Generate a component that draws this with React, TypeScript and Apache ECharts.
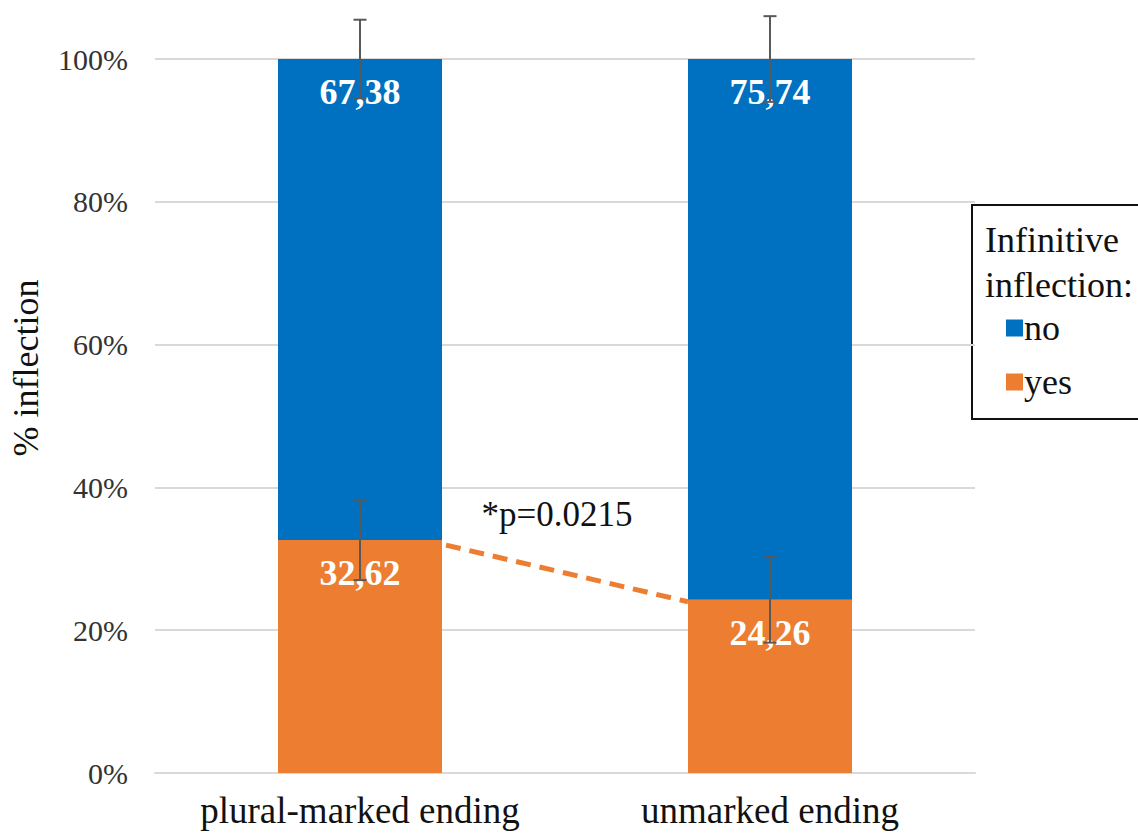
import React, { useEffect, useRef } from "react";
import * as echarts from "echarts";

const categories = ["plural-marked ending", "unmarked ending"];
const yesValues = [32.62, 24.26];
const noValues = [67.38, 75.74];
const yesErrors = [5.6, 6.0];
const noErrors = [5.5, 6.0];
const yTicks = [0, 20, 40, 60, 80, 100];
const pText = "*p=0.0215";
const yAxisTitle = "% inflection";
const legendTitle = ["Infinitive", "inflection:"];

const FONT = "Liberation Serif";
const BLUE = "#0070C0";
const ORANGE = "#ED7D31";
const BAR_FRAC = 0.4;

const fmt = (v: number) => v.toFixed(2).replace(".", ",");

export default function App() {
  const ref = useRef<HTMLDivElement>(null);
  useEffect(() => {
    if (!ref.current) return;
    const chart = echarts.init(ref.current, null, { renderer: "svg" });

    const errData = [
      ...yesValues.map((v, i) => [i, v, yesErrors[i]]),
      ...noValues.map((v, i) => [i, v + yesValues[i], noErrors[i]]),
    ];

    const barLabel = {
      show: true,
      position: "insideTop",
      distance: 15,
      formatter: (p: any) => fmt(p.value),
      fontFamily: FONT,
      fontWeight: "bold",
      fontSize: 36,
      color: "#fff",
    };

    chart.setOption({
      animation: false,
      backgroundColor: "#ffffff",
      textStyle: { fontFamily: FONT },
      grid: { left: 155, right: 163, top: 59, bottom: 62, containLabel: false },
      legend: {
        data: ["no", "yes"],
        orient: "vertical",
        left: 1001,
        top: 305,
        itemWidth: 17,
        itemHeight: 17,
        itemGap: 18,
        icon: "rect",
        textStyle: { fontFamily: FONT, fontSize: 36, color: "#111", lineHeight: 36, padding: [0, 0, 0, -4] },
      },
      xAxis: {
        type: "category",
        data: categories,
        axisLine: { lineStyle: { color: "#D9D9D9", width: 2 } },
        axisTick: { show: false },
        axisLabel: { fontFamily: FONT, fontSize: 37, color: "#111", margin: 19, interval: 0, hideOverlap: false },
      },
      yAxis: {
        type: "value",
        min: yTicks[0],
        max: yTicks[yTicks.length - 1],
        interval: 20,
        axisLine: { show: false },
        axisTick: { show: false },
        axisLabel: { fontFamily: FONT, fontSize: 30, color: "#333", margin: 27, formatter: "{value}%" },
        splitLine: { lineStyle: { color: "#D9D9D9", width: 2 } },
      },
      series: [
        {
          name: "yes",
          type: "bar",
          stack: "total",
          data: yesValues,
          barWidth: BAR_FRAC * 100 + "%",
          itemStyle: { color: ORANGE },
          label: barLabel,
        },
        {
          name: "no",
          type: "bar",
          stack: "total",
          data: noValues,
          barWidth: BAR_FRAC * 100 + "%",
          itemStyle: { color: BLUE },
          label: barLabel,
        },
        {
          name: "errors",
          type: "custom",
          z: 10,
          data: errData,
          encode: { x: 0, y: 1 },
          renderItem: (params: any, api: any) => {
            const idx = api.value(0);
            const val = api.value(1);
            const err = api.value(2);
            const top = api.coord([idx, val + err]);
            const bot = api.coord([idx, val - err]);
            const cap = 6.5;
            const style = { stroke: "#595959", lineWidth: 2 };
            return {
              type: "group",
              children: [
                { type: "line", shape: { x1: top[0], y1: top[1], x2: bot[0], y2: bot[1] }, style },
                { type: "line", shape: { x1: top[0] - cap, y1: top[1], x2: top[0] + cap, y2: top[1] }, style },
                { type: "line", shape: { x1: bot[0] - cap, y1: bot[1], x2: bot[0] + cap, y2: bot[1] }, style },
              ],
            };
          },
        },
        {
          name: "sig",
          type: "custom",
          z: 11,
          data: [[0, yesValues[0], 1, yesValues[1]]],
          encode: { x: [0, 2], y: [1, 3] },
          renderItem: (params: any, api: any) => {
            const a = api.coord([api.value(0), api.value(1)]);
            const b = api.coord([api.value(2), api.value(3)]);
            const half = (api.size([1, 0])[0] * BAR_FRAC) / 2;
            const x1 = a[0] + half + 4;
            const x2 = b[0] - half;
            return {
              type: "group",
              children: [
                {
                  type: "line",
                  shape: { x1, y1: a[1] + 5, x2, y2: b[1] + 2 },
                  style: { stroke: ORANGE, lineWidth: 5, lineDash: [15, 9] },
                },
                {
                  type: "text",
                  x: (x1 + x2) / 2 - 10,
                  y: a[1] - 8,
                  style: {
                    text: pText,
                    fontFamily: FONT,
                    fontSize: 35,
                    fill: "#111",
                    align: "center",
                    verticalAlign: "bottom",
                  },
                },
              ],
            };
          },
        },
      ],
      graphic: [
        {
          type: "text",
          x: 26,
          y: 368,
          rotation: Math.PI / 2,
          style: {
            text: yAxisTitle,
            fontFamily: FONT,
            fontSize: 36,
            fill: "#111",
            align: "center",
            verticalAlign: "middle",
          },
        },
        {
          type: "rect",
          left: 971,
          top: 204,
          shape: { width: 180, height: 214 },
          style: { fill: "#fff", stroke: "#111", lineWidth: 2 },
          z: -1,
        },
        {
          type: "text",
          left: 985,
          top: 217,
          style: {
            text: legendTitle.join("\n"),
            fontFamily: FONT,
            fontSize: 36,
            lineHeight: 45,
            fill: "#111",
          },
        },
      ],
    });
    return () => chart.dispose();
  }, []);
  return <div ref={ref} style={{ position: "absolute", left: 0, top: 0, width: 1138, height: 835 }} />;
}
